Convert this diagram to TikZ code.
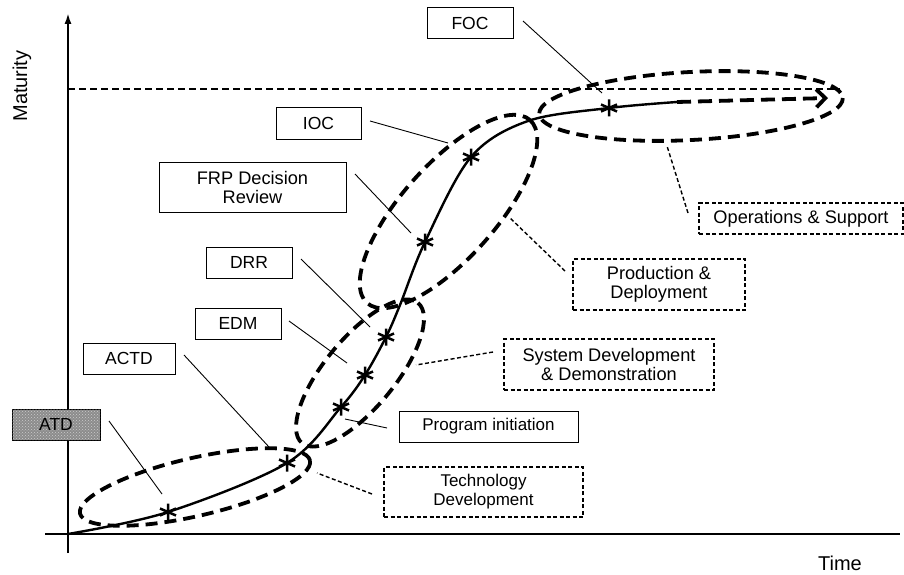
\documentclass[tikz,border=0pt]{standalone}
\usepackage{fontspec}
\setmainfont{Liberation Sans}
\usetikzlibrary{arrows.meta,patterns}
\begin{document}
\begin{tikzpicture}[x=1pt,y=-1pt,
  every node/.style={font=\fontsize{17.5}{19}\selectfont},
  axisline/.style={line width=2pt},
  curveline/.style={line width=2.4pt},
  phase/.style={line width=3.8pt, dash pattern=on 12pt off 7pt},
  leader/.style={line width=0.9pt},
  dleader/.style={line width=1.4pt, dash pattern=on 4pt off 2.5pt},
  lbox/.style={draw, line width=1pt, align=center, inner sep=0pt, minimum height=31pt},
  pbox/.style={draw, line width=1.4pt, dash pattern=on 4pt off 2.5pt, align=center, inner sep=0pt},
  bigger/.style={font=\fontsize{18.2}{19}\selectfont},
  bigtext/.style={font=\fontsize{20}{22}\selectfont},
  astk/.pic={\draw[line width=2.5pt] (0,-8.5)--(0,8.5) (-8,-3.5)--(8,3.5) (-8,3.5)--(8,-3.5);}
]
\useasboundingbox (0,0) rectangle (904,575);

% axes
\coordinate (ybot) at (68,553);
\coordinate (ytop) at (68,13);
\coordinate (xleft) at (45,534);
\coordinate (xright) at (900,534);
\draw[axisline, -{Latex[length=11pt,width=7pt]}] (ybot) -- (ytop);
\draw[axisline] (xleft) -- (xright);
\node[bigtext, rotate=90] (mat) at (22,86) {Maturity};
\node[bigtext] (time) at (840,563) {Time};

% maturity level
\coordinate (lvl-a) at (68,89);
\coordinate (lvl-b) at (840,89);
\draw[line width=1.6pt, dash pattern=on 7pt off 4pt] (lvl-a) -- (lvl-b);

% curve points
\coordinate (origin) at (68,534);
\coordinate (s-atd) at (168,512);
\coordinate (s-actd) at (287,463);
\coordinate (s-pi) at (341,407);
\coordinate (s-edm) at (365,375);
\coordinate (s-drr) at (386,337);
\coordinate (c1) at (400,305);
\coordinate (s-frp) at (425,242);
\coordinate (s-ioc) at (471,157);
\coordinate (c2) at (528,121);
\coordinate (s-foc) at (609,108);
\coordinate (c3) at (677,102);
\coordinate (tip) at (828,98);

\draw[curveline] plot[smooth, tension=0.55] coordinates {(origin) (s-atd) (s-actd) (s-pi) (s-edm) (s-drr) (c1) (s-frp) (s-ioc) (c2) (s-foc) (c3)};
\draw[line width=3.8pt, dash pattern=on 14pt off 7pt, -{Straight Barb[length=9pt,width=18pt]}] (c3) -- (tip);

% phase ellipses
\draw[phase, rotate around={13:(195,487)}] (195,487) ellipse [x radius=118, y radius=29];
\draw[phase, rotate around={50.4:(360,373)}] (360,373) ellipse [x radius=91, y radius=35];
\draw[phase, rotate around={48.3:(448.5,211.5)}] (448.5,211.5) ellipse [x radius=122.5, y radius=47];
\draw[phase, rotate around={3:(691,106)}] (691,106) ellipse [x radius=152, y radius=34];

% stars
\foreach \p in {s-atd,s-actd,s-pi,s-edm,s-drr,s-frp,s-ioc,s-foc}
  \pic at (\p) {astk};

% milestone boxes
\node[lbox, minimum width=86pt] (foc) at (470,23.5) {FOC};
\node[lbox, minimum width=85pt] (ioc) at (318.5,123.5) {IOC};
\node[lbox, bigger, minimum width=187pt, minimum height=50pt] (frp) at (252.5,187) {FRP Decision\\Review};
\node[lbox, minimum width=86pt] (drr) at (249,262.5) {DRR};
\node[lbox, minimum width=86pt] (edm) at (238,323.5) {EDM};
\node[lbox, minimum width=92pt] (actd) at (129,358.5) {ACTD};
\node[lbox, minimum width=88pt, fill=black!45, postaction={pattern=crosshatch dots, pattern color=white!80!black}] (atd) at (56,424.5) {ATD};
\node[lbox, font=\fontsize{17}{19}\selectfont, minimum width=179pt] (pinit) at (488.5,426.5) {Program initiation};

% phase boxes
\node[pbox, font=\fontsize{17}{19}\selectfont, minimum width=199pt, minimum height=50pt] (td) at (483.5,492) {Technology\\Development};
\node[pbox, bigger, minimum width=210pt, minimum height=51pt] (sdd) at (609,364.5) {System Development\\\& Demonstration};
\node[pbox, bigger, minimum width=172pt, minimum height=51pt] (pd) at (659,284.5) {Production \&\\Deployment};
\node[pbox, bigger, minimum width=204pt, minimum height=31pt] (os) at (801,218.5) {Operations \& Support};

% leaders
\coordinate (foc-a) at (523,21);   \coordinate (foc-b) at (602,93);
\coordinate (ioc-a) at (370,121);  \coordinate (ioc-b) at (448,143);
\coordinate (frp-a) at (355,174);  \coordinate (frp-b) at (411,233);
\coordinate (drr-a) at (301,259);  \coordinate (drr-b) at (370,327);
\coordinate (edm-a) at (289,321);  \coordinate (edm-b) at (347,363);
\coordinate (actd-a) at (184,355); \coordinate (actd-b) at (269,447);
\coordinate (atd-a) at (109,421);  \coordinate (atd-b) at (162,494);
\coordinate (pi-a) at (387,428);   \coordinate (pi-b) at (345,419);
\foreach \n in {foc,ioc,frp,drr,edm,actd,atd,pi}
  \draw[leader] (\n-a) -- (\n-b);

\coordinate (td-a) at (372,494);   \coordinate (td-b) at (317,473);
\coordinate (sdd-a) at (493,352);  \coordinate (sdd-b) at (416,365);
\coordinate (pd-a) at (565,271);   \coordinate (pd-b) at (509,217);
\coordinate (os-a) at (688,213);   \coordinate (os-b) at (667,146);
\foreach \n in {td,sdd,pd,os}
  \draw[dleader] (\n-a) -- (\n-b);
\end{tikzpicture}
\end{document}
